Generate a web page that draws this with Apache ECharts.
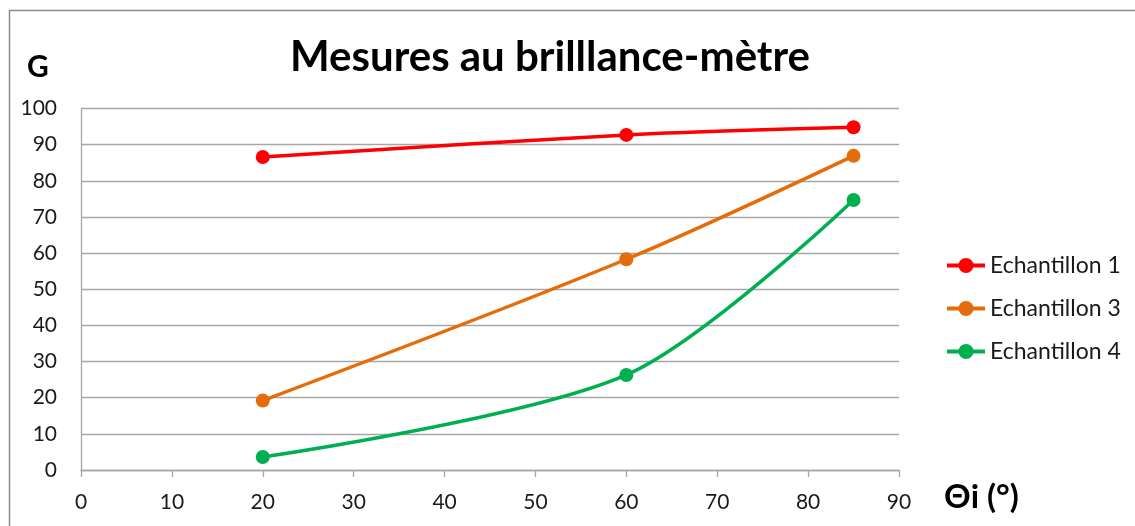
<!DOCTYPE html>
<html>
<head>
<meta charset="utf-8">
<script src="https://cdn.jsdelivr.net/npm/echarts@6/dist/echarts.min.js"></script>
<style>
  html, body { margin: 0; padding: 0; background: #fff; }
  #chart { width: 1135px; height: 526px; }
</style>
</head>
<body>
<div id="chart"></div>
<script>
// Incidence angle (°) and gloss readings (G) per sample
const angles = [20, 60, 85];
const echantillon1 = [86.6, 92.7, 94.8];
const echantillon3 = [19.2, 58.3, 86.9];
const echantillon4 = [3.6, 26.3, 74.7];
const seriesNames = ['Echantillon 1', 'Echantillon 3', 'Echantillon 4'];
const seriesColors = ['#FF0000', '#E46C0A', '#00B050'];

const FONT = 'Lato';
const gridColor = '#A6A6A6';

function pairs(ys) {
  return angles.map((x, i) => [x, ys[i]]);
}

const chart = echarts.init(document.getElementById('chart'));

const makeSeries = (name, ys, color) => ({
  name: name,
  type: 'line',
  data: pairs(ys),
  smooth: 0.3,
  symbol: 'circle',
  symbolSize: 14,
  lineStyle: { color: color, width: 3.5 },
  itemStyle: { color: color },
  emphasis: { disabled: true }
});

chart.setOption({
  animation: false,
  backgroundColor: '#fff',
  grid: { left: 81, right: 236, top: 108.5, bottom: 56, containLabel: false },
  title: {
    text: 'Mesures au brilllance-mètre',
    left: 545,
    textAlign: 'center',
    top: 31,
    textStyle: { fontFamily: FONT, fontWeight: 'bold', fontSize: 42, color: '#000' }
  },
  legend: {
    orient: 'vertical',
    left: 945,
    top: 254,
    padding: 0,
    itemWidth: 38,
    itemHeight: 19,
    itemGap: 20,
    data: seriesNames,
    lineStyle: { width: 4 },
    textStyle: { fontFamily: FONT, fontSize: 23, color: '#1a1a1a' }
  },
  xAxis: {
    type: 'value',
    min: 0,
    max: 90,
    interval: 10,
    axisLine: { show: true, lineStyle: { color: gridColor, width: 1.3 } },
    axisTick: { show: true, length: 7, lineStyle: { color: gridColor, width: 1.3 } },
    axisLabel: { margin: 22, fontFamily: FONT, fontSize: 21, color: '#1a1a1a' },
    splitLine: { show: false }
  },
  yAxis: {
    type: 'value',
    min: 0,
    max: 100,
    interval: 10,
    axisLine: { show: true, lineStyle: { color: gridColor, width: 1.3 } },
    axisTick: { show: false },
    axisLabel: { margin: 24, fontFamily: FONT, fontSize: 21, color: '#1a1a1a' },
    splitLine: { show: true, lineStyle: { color: gridColor, width: 1.3 } }
  },
  graphic: [
    {
      type: 'rect',
      shape: { x: 9.5, y: 10.5, width: 1200, height: 600 },
      style: { fill: 'none', stroke: '#8C8C8C', lineWidth: 1.5 },
      silent: true,
      z: -10
    },
    {
      type: 'text',
      left: 27,
      top: 52,
      style: { text: 'G', fontFamily: FONT, fontWeight: 'bold', fontSize: 30, fill: '#000' }
    },
    {
      type: 'text',
      left: 944,
      top: 481,
      style: { text: 'Θi (°)', fontFamily: FONT, fontWeight: 'bold', fontSize: 33, fill: '#000' }
    }
  ],
  series: [
    makeSeries(seriesNames[0], echantillon1, seriesColors[0]),
    makeSeries(seriesNames[1], echantillon3, seriesColors[1]),
    makeSeries(seriesNames[2], echantillon4, seriesColors[2])
  ]
});
</script>
</body>
</html>
